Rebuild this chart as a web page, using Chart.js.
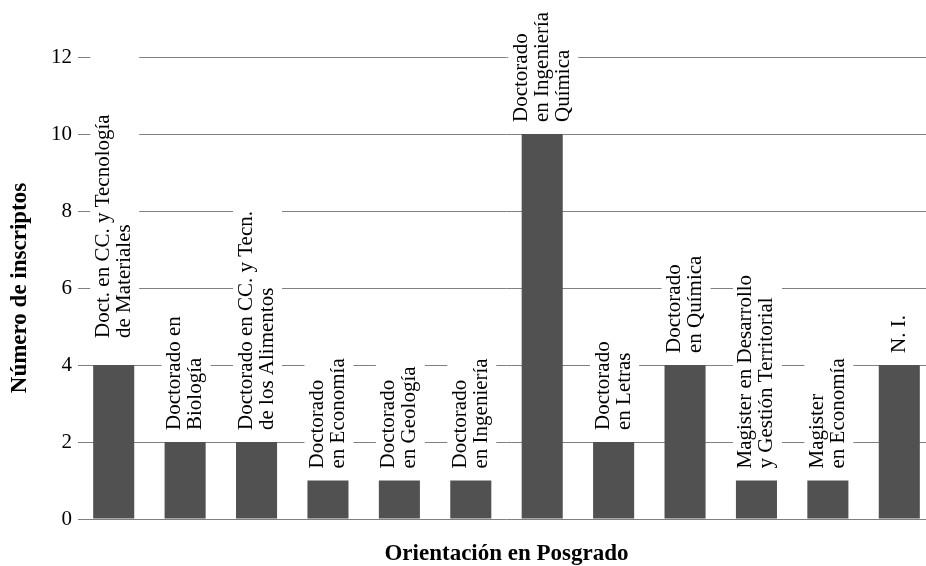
<!DOCTYPE html>
<html>
<head>
<meta charset="utf-8">
<script src="https://cdn.jsdelivr.net/npm/chart.js@4/dist/chart.umd.min.js"></script>
<style>
  html, body { margin: 0; padding: 0; background: #fff; overflow: hidden; }
  #wrap { width: 935px; height: 566px; }
</style>
</head>
<body>
<div id="wrap"><canvas id="chart"></canvas></div>
<script>
// categories (one per bar), each label split in its printed lines
const categories = [
  ['Doct. en CC. y Tecnología', 'de Materiales'],
  ['Doctorado en', 'Biología'],
  ['Doctorado en CC. y Tecn.', 'de los Alimentos'],
  ['Doctorado', 'en Economía'],
  ['Doctorado', 'en Geología'],
  ['Doctorado', 'en Ingeniería'],
  ['Doctorado', 'en Ingeniería', 'Química'],
  ['Doctorado', 'en Letras'],
  ['Doctorado', 'en Química'],
  ['Magister en Desarrollo', 'y Gestión Territorial'],
  ['Magister', 'en Economía'],
  ['N. I.']
];
const inscriptos = [4, 2, 2, 1, 1, 1, 10, 2, 4, 1, 1, 4];
const yTicks = [0, 2, 4, 6, 8, 10, 12];

const serif = "'Liberation Serif', 'Times New Roman', serif";

// vertical labels above the bars, on a white box that hides the grid
const barLabels = {
  id: 'barLabels',
  afterDraw(chart) {
    const ctx = chart.ctx;
    const meta = chart.getDatasetMeta(0);
    const lineH = 21;
    ctx.save();
    ctx.font = '21px ' + serif;
    meta.data.forEach((bar, i) => {
      const lines = categories[i];
      // the first label sits higher in the original and its box runs to the top
      const start = bar.y - (i === 0 ? 27 : 12);
      let longest = 0;
      lines.forEach(l => { longest = Math.max(longest, ctx.measureText(l).width); });
      const boxW = lines.length * lineH + 7;
      const top = i === 0 ? chart.chartArea.top - 4 : start - longest - 4;
      ctx.fillStyle = '#fff';
      ctx.fillRect(bar.x - boxW / 2 + 1, top, boxW, bar.y - top - 0.5);
      ctx.save();
      ctx.translate(bar.x, start);
      ctx.rotate(-Math.PI / 2);
      ctx.fillStyle = '#000';
      ctx.textAlign = 'left';
      ctx.textBaseline = 'middle';
      lines.forEach((l, k) => {
        ctx.fillText(l, 0, (k - (lines.length - 1) / 2) * lineH);
      });
      ctx.restore();
    });
    ctx.restore();
  }
};

new Chart(document.getElementById('chart'), {
  type: 'bar',
  data: {
    labels: categories.map(c => c.join(' ')),
    datasets: [{
      data: inscriptos,
      backgroundColor: '#515151',
      borderWidth: 0,
      barPercentage: 0.575,
      categoryPercentage: 1
    }]
  },
  options: {
    responsive: true,
    maintainAspectRatio: false,
    animation: false,
    layout: { padding: { top: 57, right: 0, bottom: 0, left: 0 } },
    plugins: { legend: { display: false }, tooltip: { enabled: false } },
    scales: {
      x: {
        grid: { display: false },
        border: { display: false },
        ticks: { display: false },
        title: {
          display: true,
          text: 'Orientación en Posgrado',
          color: '#000',
          font: { family: serif, size: 23, weight: 'bold', lineHeight: 1 },
          padding: { top: 0, bottom: 0 }
        },
        afterFit(axis) { axis.height = 47; }
      },
      y: {
        min: 0,
        max: 12,
        afterBuildTicks(axis) { axis.ticks = yTicks.map(v => ({ value: v })); },
        grid: { color: '#808080', lineWidth: 1, drawTicks: false },
        border: { display: false },
        ticks: {
          color: '#000',
          padding: 6,
          font: { family: serif, size: 21 }
        },
        title: {
          display: true,
          text: 'Número de inscriptos',
          color: '#000',
          font: { family: serif, size: 23, weight: 'bold', lineHeight: 1 },
          padding: { top: 9, bottom: 0 }
        },
        afterFit(axis) { axis.width = 78; }
      }
    }
  },
  plugins: [barLabels]
});
</script>
</body>
</html>
